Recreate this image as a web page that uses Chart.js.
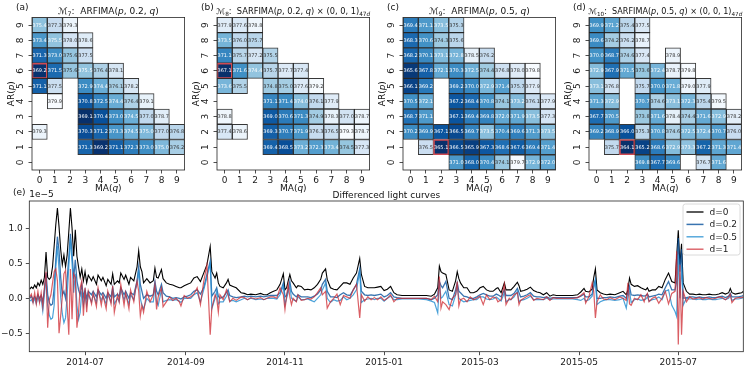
<!DOCTYPE html>
<html>
<head>
<meta charset="utf-8">
<title>ARFIMA order grids and differenced light curves</title>
<script src="https://cdn.jsdelivr.net/npm/chart.js@4.4.1/dist/chart.umd.min.js"></script>
<style>
  html, body { margin: 0; padding: 0; background: #fff; }
  #fig { position: relative; width: 747px; height: 369px; overflow: hidden; background: #fff; }
  #fig canvas { position: absolute; }
</style>
</head>
<body>
<div id="fig">
  <canvas id="hm7" width="186" height="196" style="left:0px;top:0px"></canvas>
  <canvas id="hm8" width="186" height="196" style="left:185px;top:0px"></canvas>
  <canvas id="hm9" width="186" height="196" style="left:371px;top:0px"></canvas>
  <canvas id="hm10" width="186" height="196" style="left:557px;top:0px"></canvas>
  <canvas id="curves" width="747" height="186" style="left:0px;top:183px"></canvas>
</div>
<script>
// ---- data ----
const _ = null;
const Q_LABELS = ['0', '1', '2', '3', '4', '5', '6', '7', '8', '9'];
const P_TICKS = [0, 1, 2, 3, 4, 5, 6, 7, 8, 9];

// score grids, one row per AR order p (p = 9 at the top, p = 0 at the bottom), columns MA order q = 0..9
const m7Scores = [
  [375.4, 377.3, 379.3, _, _, _, _, _, _, _],
  [373.4, 375.5, 378.0, 378.6, _, _, _, _, _, _],
  [371.3, 373.0, 375.6, 377.5, _, _, _, _, _, _],
  [369.2, 371.5, 375.6, 375.5, 376.4, 378.1, _, _, _, _],
  [371.1, 377.5, _, 372.9, 374.4, 376.1, 378.2, _, _, _],
  [_, 379.9, _, 370.8, 372.5, 374.4, 376.4, 379.1, _, _],
  [_, _, _, 369.1, 370.4, 373.0, 374.5, 377.0, 378.7, _],
  [379.3, _, _, 370.3, 371.2, 373.3, 374.5, 375.0, 377.0, 376.8],
  [_, _, _, 371.3, 369.2, 371.1, 372.3, 373.0, 375.0, 376.2],
  [_, _, _, _, _, _, _, _, _, _]
];
const m8Scores = [
  [377.9, 377.6, 378.8, _, _, _, _, _, _, _],
  [373.5, 376.0, 375.7, _, _, _, _, _, _, _],
  [371.1, 375.7, 377.2, 375.5, _, _, _, _, _, _],
  [367.1, 371.6, 374.4, 375.7, 377.7, 377.4, _, _, _, _],
  [373.6, 375.5, _, 374.8, 375.0, 377.6, 379.2, _, _, _],
  [_, _, _, 371.1, 371.4, 374.0, 376.1, 377.9, _, _],
  [378.8, _, _, 369.0, 370.6, 371.3, 374.9, 378.3, 377.0, 378.7],
  [377.4, 378.6, _, 369.3, 370.7, 371.9, 376.3, 376.5, 379.3, 378.7],
  [_, _, _, 369.4, 368.5, 373.2, 372.3, 373.4, 374.5, 377.3],
  [_, _, _, _, _, _, _, _, _, _]
];
const m9Scores = [
  [369.4, 371.1, 373.5, 375.3, _, _, _, _, _, _],
  [368.3, 370.6, 374.3, 375.6, _, _, _, _, _, _],
  [368.2, 370.1, 373.1, 372.8, 378.5, 376.2, _, _, _, _],
  [365.6, 367.8, 372.1, 370.3, 372.5, 374.4, 376.8, 378.0, 379.8, _],
  [366.1, 369.2, _, 369.2, 370.0, 372.9, 371.4, 375.7, 377.9, _],
  [370.5, 372.1, _, 367.2, 368.4, 370.8, 374.1, 373.2, 376.1, 377.9],
  [368.7, 371.1, _, 367.1, 369.4, 369.8, 372.0, 371.9, 373.5, 377.3],
  [370.2, 369.9, 367.1, 366.5, 369.7, 373.5, 370.4, 369.6, 371.3, 373.5],
  [_, 376.5, 365.1, 366.5, 365.9, 367.3, 368.6, 367.6, 369.4, 371.4],
  [_, _, _, 371.0, 368.0, 370.4, 374.1, 379.7, 372.9, 372.0]
];
const m10Scores = [
  [369.9, 371.2, 375.4, 377.5, _, _, _, _, _, _],
  [369.6, 374.2, 376.2, 378.7, _, _, _, _, _, _],
  [370.0, 368.7, 374.6, 377.4, _, 378.9, _, _, _, _],
  [372.9, 367.9, 371.5, 373.6, 372.4, 378.7, 379.8, _, _, _],
  [373.1, 376.8, _, 375.7, 370.0, 371.8, 379.0, 377.9, _, _],
  [371.3, 372.9, _, 370.7, 374.6, 373.1, 372.3, 375.4, 379.5, _],
  [367.7, 370.5, _, 373.8, 371.6, 378.4, 374.4, 371.6, 372.9, 378.2],
  [369.2, 368.9, 366.0, 375.3, 370.8, 374.6, 372.5, 372.4, 370.7, 376.0],
  [_, 375.7, 364.1, 365.2, 368.6, 372.9, 373.3, 367.2, 371.3, 371.4],
  [_, _, _, 369.8, 367.7, 369.6, _, 376.7, 371.6, _]
];
// selected (p, q) cell of each grid, outlined in red
const m7Pick = [6, 0];
const m8Pick = [6, 0];
const m9Pick = [1, 2];
const m10Pick = [1, 2];

// panel titles as [text, style] runs: '' upright, 'i' italic, 's' subscript, 'si' italic subscript
const m7Title = [['ℳ', ''], ['7', 's'], [':  ARFIMA(', ''], ['p', 'i'], [', 0.2, ', ''], ['q', 'i'], [')', '']];
const m8Title = [['ℳ', ''], ['8', 's'], [':  SARFIMA(', ''], ['p', 'i'], [', 0.2, ', ''], ['q', 'i'], [') × (0, 0, 1)', ''], ['47', 's'], ['d', 'si']];
const m9Title = [['ℳ', ''], ['9', 's'], [':  ARFIMA(', ''], ['p', 'i'], [', 0.5, ', ''], ['q', 'i'], [')', '']];
const m10Title = [['ℳ', ''], ['10', 's'], [':  SARFIMA(', ''], ['p', 'i'], [', 0.5, ', ''], ['q', 'i'], [') × (0, 0, 1)', ''], ['47', 's'], ['d', 'si']];
const X_TITLE = [['MA(', ''], ['q', 'i'], [')', '']];
const Y_TITLE = [['AR(', ''], ['p', 'i'], [')', '']];

// light curves: days counted from 2014-07-01, values in units of 1e-5
const lcDays = [
  -34, -33, -32, -31, -30, -29, -28, -27, -26, -25,
  -24, -23, -22, -21, -20, -19, -18, -17, -16, -15,
  -14, -13, -12, -11, -10, -9, -8, -7, -6, -5,
  -4, -3, -2, -1, 0, 1, 2, 4, 5, 7,
  8, 10, 11, 13, 14, 16, 17, 18, 20, 21,
  22, 24, 25, 27, 28, 30, 31, 32, 33, 34,
  35, 36, 38, 40, 42, 43, 44, 45, 47, 48,
  50, 52, 54, 56, 58, 59, 61, 63, 65, 67,
  69, 71, 73, 75, 77, 78, 80, 81, 82, 83,
  85, 87, 88, 89, 91, 93, 96, 98, 100, 102,
  105, 108, 110, 112, 114, 116, 118, 120, 122, 123,
  124, 125, 126, 127, 128, 130, 131, 133, 135, 137,
  139, 141, 143, 145, 146, 148, 149, 151, 153, 155,
  157, 159, 161, 163, 165, 167, 169, 170, 172, 174,
  176, 178, 180, 182, 184, 186, 188, 190, 192, 195,
  200, 205, 210, 213, 215, 217, 218, 219, 220, 222,
  224, 226, 228, 229, 230, 231, 233, 235, 237, 239,
  241, 243, 245, 247, 249, 251, 253, 254, 256, 258,
  259, 261, 262, 264, 266, 267, 268, 270, 272, 274,
  276, 278, 280, 282, 284, 286, 288, 290, 295, 300,
  303, 305, 307, 308, 310, 312, 313, 314, 315, 317,
  319, 321, 323, 326, 329, 331, 333, 334, 335, 336,
  338, 340, 342, 344, 345, 346, 347, 349, 351, 353,
  355, 357, 359, 361, 363, 364, 365, 366, 367, 368,
  370, 372, 374, 376, 378, 380, 382, 384, 386, 388,
  390, 392, 394, 396, 397, 398, 400, 402, 404, 405
];
const lcD0 = [
  .13, .16, .14, .19, .15, .22, .18, .26, .20, .30,
  .66, .30, .27, .30, .45, .75, 1.05, 1.29, 1.02, .70,
  .48, .62, .45, .62, .95, 1.29, 1.00, .60, .98, .60,
  .45, .30, .42, .25, .38, .22, .33, .25, .31, .20,
  .33, .25, .30, .18, .27, .20, .35, .20, .25, .22,
  .36, .27, .33, .20, .30, .25, .35, .45, .68, .45,
  .38, .22, .28, .22, .25, .43, .30, .29, .41, .28,
  .22, .20, .19, .17, .15, .15, .18, .20, .22, .29,
  .31, .24, .36, .48, .74, .38, .29, .36, .22, .17,
  .15, .22, .27, .19, .17, .15, .08, .07, .05, .06,
  .05, .07, .05, .05, .08, .10, .12, .20, .35, .12,
  .15, .25, .34, .25, .22, .15, .18, .17, .12, .13,
  .12, .15, .20, .27, .36, .42, .27, .15, .13, .12,
  .17, .22, .22, .20, .29, .36, .57, .34, .17, .15,
  .15, .15, .16, .17, .11, .13, .17, .08, .05, .04,
  .04, .04, .04, .03, .06, .15, .46, .38, .36, .34,
  .12, .10, .25, .38, .28, .22, .15, .15, .08, .08,
  .10, .15, .17, .12, .10, .10, .14, .15, .08, .22,
  .12, .12, .12, .17, .23, .18, .10, .11, .13, .16,
  .11, .09, .08, .05, .08, .03, .05, .04, .04, .04,
  .05, .09, .14, .10, .09, .13, .30, .42, .12, .08,
  .06, .05, .06, .05, .08, .10, .05, .12, .29, .20,
  .17, .18, .15, .13, .12, .15, .10, .12, .12, .17,
  .15, .27, .36, .24, .22, .60, .97, .48, .78, .22,
  .10, .06, .06, .05, .06, .05, .05, .06, .05, .05,
  .06, .08, .06, .08, .14, .08, .06, .07, .08, .10
];
const lcD02 = [
  .00, .03, -.02, .02, -.02, .05, .00, .04, -.05, .12,
  .36, .05, -.06, -.10, -.08, .15, .55, .88, .68, .30,
  .05, .10, .00, .28, .58, .92, .65, .28, .55, .25,
  .12, .05, .20, .02, .12, .00, .10, .05, .10, .02,
  .12, .05, .08, .00, .08, .02, .15, .02, .06, .02,
  .15, .05, .10, .00, .08, .05, .15, .25, .45, .20,
  .10, .00, .05, .03, .05, .24, .10, .05, .20, .08,
  .03, .02, .00, .01, .00, -.01, .02, .03, .05, .10,
  .12, .06, .15, .34, .53, .03, .10, .15, .03, .00,
  .02, .08, .12, .04, .02, .01, .02, .03, .02, .03,
  .02, .03, .02, .03, .04, .04, .04, .08, .22, .02,
  .04, .12, .24, .10, .06, .02, .05, .02, .02, .02,
  .01, .03, .06, .12, .20, .27, .10, .02, .02, .01,
  .05, .08, .05, .04, .12, .20, .42, .10, .05, .04,
  .05, .04, .05, .06, .02, .04, .08, .02, .01, .00,
  .00, .00, .00, -.02, .00, .05, .24, .18, .15, .24,
  .00, -.02, .12, .22, .10, .08, .03, .02, .00, .00,
  .02, .05, .07, .05, .03, .03, .06, .05, .02, .12,
  .04, .04, .04, .07, .14, .08, .02, .03, .05, .08,
  .03, .02, .02, .01, .02, .00, .01, .01, .01, .01,
  .01, .03, .06, .02, .02, .06, .18, .27, .00, .00,
  .01, .01, .02, .01, .03, .04, .00, .08, .17, .05,
  .04, .05, .04, .03, .04, .06, .02, .03, .04, .06,
  .05, .15, .24, .12, .12, .24, .86, .38, .70, .00,
  .01, .02, .02, .01, .02, .01, .01, .02, .01, .01,
  .02, .03, .01, .03, .07, .02, .02, .02, .03, .04
];
const lcD05 = [
  -.04, -.02, -.06, .00, -.08, .02, -.05, .00, -.18, .05,
  .30, -.10, -.24, -.30, -.28, -.10, .45, .75, .40, .02,
  -.22, -.35, -.28, .05, .45, .85, .50, .08, .35, -.10,
  -.30, -.20, .10, -.10, .05, -.10, .05, -.05, .05, -.06,
  .10, -.03, .03, -.08, .05, -.05, .12, -.08, .00, -.05,
  .12, -.02, .05, -.08, .05, -.02, .12, .20, .40, .00,
  -.10, -.15, .00, -.05, -.05, .18, -.05, -.10, .12, -.05,
  -.03, -.02, -.03, -.02, -.04, -.06, .00, .00, .00, .05,
  .08, -.05, .12, .30, .50, -.15, .00, .10, -.08, -.05,
  -.05, .03, .08, -.04, -.03, -.05, -.02, .00, -.02, .00,
  -.02, -.01, -.02, .00, .00, .00, -.01, .05, .18, -.09,
  .00, .08, .18, .00, -.02, -.04, .02, -.02, -.02, -.01,
  -.03, -.05, .00, .05, .12, .22, .00, -.06, -.02, -.04,
  -.03, .02, -.02, .00, .05, .12, .38, -.06, -.02, -.01,
  .00, -.02, .00, .00, -.04, .00, .03, -.02, -.02, -.01,
  -.01, -.01, -.02, -.04, -.06, -.21, .22, .00, .02, .10,
  -.09, -.11, .05, .17, .00, -.02, -.05, -.04, -.03, -.02,
  -.02, .02, .02, -.01, -.02, -.01, .02, .00, -.04, .08,
  -.05, -.02, -.02, .02, .10, -.05, -.03, -.02, .00, .03,
  -.02, -.02, -.02, -.02, .00, -.02, -.01, -.01, -.01, -.01,
  -.02, -.03, .00, -.04, -.02, .03, .15, .25, -.09, -.05,
  -.03, -.02, -.02, -.03, -.02, .00, -.14, .02, .10, -.06,
  -.02, -.01, -.03, -.02, -.01, .02, -.04, -.02, -.01, .02,
  -.02, .10, .12, -.10, -.19, -.26, .62, .00, .48, -.10,
  .00, -.01, -.01, -.02, -.01, -.02, -.02, -.01, -.02, -.02,
  -.01, .00, -.02, .00, .04, -.03, -.01, -.01, .00, .01
];
const lcD1 = [
  .02, .06, -.06, .08, -.08, .10, -.06, .08, -.12, .15,
  .38, -.42, -.02, .05, .22, .38, .42, .25, -.50, -.25,
  .02, .35, .40, -.10, -.52, .42, -.30, .35, .30, -.42,
  -.20, .15, .25, -.25, .15, -.20, .10, -.08, .08, -.12,
  .15, -.10, .05, -.15, .10, -.08, .18, -.20, .05, -.05,
  .20, -.10, .08, -.15, .12, -.05, .12, .25, .10, -.25,
  -.10, -.20, .10, -.05, .05, .20, -.16, .02, .15, -.12,
  -.05, .02, -.03, .00, -.05, -.11, .04, .00, .02, .06,
  .15, -.09, .24, .48, -.52, -.14, .05, .00, -.20, .05,
  -.02, .12, .05, -.05, .00, -.03, .02, .01, -.02, .01,
  -.01, .01, -.02, .00, .02, .02, .00, .15, .05, -.16,
  .03, .20, .02, -.09, .00, -.05, .05, -.03, -.02, .00,
  -.01, .02, .08, .15, .05, .10, -.14, -.05, .00, .06,
  -.09, .04, .02, .00, .12, .20, -.28, .05, -.04, .02,
  -.02, .01, -.02, .02, -.03, .00, .05, -.05, .00, .00,
  .00, .00, .00, -.02, .03, -.05, .31, -.14, -.05, -.09,
  -.16, .00, .05, .24, -.11, -.02, .00, -.05, .02, -.02,
  .00, .03, -.09, .05, -.02, .02, .00, -.05, -.02, .20,
  -.09, .00, -.02, .05, .08, -.09, -.03, .00, .03, .05,
  -.03, .00, -.01, -.02, .02, -.03, .01, .00, .00, .00,
  .01, .04, .08, -.07, .02, .22, .10, -.28, -.05, .05,
  -.01, -.02, .01, -.02, .02, .00, -.03, .22, -.08, -.10,
  .00, -.02, .05, -.05, .03, .07, -.05, .00, .02, -.07,
  .00, .10, -.08, .07, .10, .67, -.66, .48, -.52, .10,
  -.05, .02, -.01, .00, .01, -.01, .01, .00, -.01, .00,
  .02, .01, -.02, .02, .06, -.06, .00, .01, .01, .02
];
const tickDays = [0, 62, 123, 184, 243, 304, 365];
const tickLabels = ['2014-07', '2014-09', '2014-11', '2015-01', '2015-03', '2015-05', '2015-07'];
const yTickValues = [-0.5, 0, 0.5, 1.0];
const seriesNames = ['d=0', 'd=0.2', 'd=0.5', 'd=1'];

// ---- drawing ----
const FONT = '"DejaVu Sans"';
Chart.defaults.font.family = FONT;
Chart.defaults.color = '#1a1a1a';

const BLUES = [[247, 251, 255], [222, 235, 247], [198, 219, 239], [158, 202, 225], [107, 174, 214],
               [66, 146, 198], [33, 113, 181], [8, 81, 156], [8, 48, 107]];
function blues(t) {
  t = Math.min(1, Math.max(0, t));
  const s = t * 8, i = Math.min(7, Math.floor(s)), f = s - i;
  const a = BLUES[i], b = BLUES[i + 1];
  return 'rgb(' + [0, 1, 2].map(k => Math.round(a[k] + (b[k] - a[k]) * f)).join(',') + ')';
}

function richFont(style, size) {
  const sz = style.includes('s') ? size * 0.7 : size;
  return (style.includes('i') ? 'oblique ' : '') + sz.toFixed(2) + 'px ' + FONT;
}
function drawRich(ctx, runs, cx, y, size, maxW) {
  let w = 0;
  runs.forEach(([t, st]) => { ctx.font = richFont(st, size); w += ctx.measureText(t).width; });
  if (maxW && w > maxW) { size = size * maxW / w; w = maxW; }
  let x = cx - w / 2;
  ctx.textAlign = 'left';
  ctx.textBaseline = 'alphabetic';
  runs.forEach(([t, st]) => {
    ctx.font = richFont(st, size);
    ctx.fillText(t, x, st.includes('s') ? y + size * 0.22 : y);
    x += ctx.measureText(t).width;
  });
}

const axesFrame = {
  id: 'axesFrame',
  afterDatasetsDraw(chart) {
    const {ctx, chartArea: a} = chart;
    ctx.save();
    ctx.strokeStyle = '#262626';
    ctx.lineWidth = 0.8;
    ctx.strokeRect(a.left, a.top, a.right - a.left, a.bottom - a.top);
    ctx.restore();
  }
};

const cellLabels = {
  id: 'cellLabels',
  afterDatasetsDraw(chart) {
    const {ctx, scales: {x, y}} = chart;
    const ds = chart.data.datasets[0];
    ctx.save();
    ctx.font = '5px ' + FONT;
    ctx.textAlign = 'center';
    ctx.textBaseline = 'middle';
    ds.data.forEach((c, i) => {
      ctx.fillStyle = ds.labelColors[i];
      ctx.fillText(c.v.toFixed(1), x.getPixelForValue(c.q), y.getPixelForValue(c.p) + 0.3);
    });
    ctx.restore();
  }
};

const heatDecor = {
  id: 'heatDecor',
  afterDraw(chart, args, opts) {
    const {ctx, chartArea: a} = chart;
    const mid = (a.left + a.right) / 2;
    ctx.save();
    ctx.fillStyle = '#111';
    ctx.font = '9px ' + FONT;
    ctx.textAlign = 'left';
    ctx.textBaseline = 'alphabetic';
    ctx.fillText(opts.tag, a.left - 16, 10);
    drawRich(ctx, opts.title, mid, a.top - 3, 9, 154);
    drawRich(ctx, X_TITLE, mid, 191, 9);
    ctx.translate(13.5, (a.top + a.bottom) / 2);
    ctx.rotate(-Math.PI / 2);
    drawRich(ctx, Y_TITLE, 0, 0, 9);
    ctx.restore();
  }
};

function makeHeatmap(id, scores, pick, title, tag) {
  const cells = [];
  scores.forEach((row, r) => {
    const p = 9 - r;
    row.forEach((v, q) => {
      if (v !== null) cells.push({x: Q_LABELS[q], y: [p - 0.5, p + 0.5], v, p, q});
    });
  });
  const vals = cells.map(c => c.v);
  const lo = Math.min(...vals), hi = Math.max(...vals);
  const shade = v => (hi - v) / (hi - lo);
  const isPick = c => c.p === pick[0] && c.q === pick[1];
  const tickFont = {family: FONT, size: 9};
  const tickGrid = {drawOnChartArea: false, offset: false, tickLength: 3.5, tickWidth: 0.8, tickColor: '#222'};

  new Chart(document.getElementById(id), {
    type: 'bar',
    data: {
      labels: Q_LABELS,
      datasets: [{
        data: cells,
        backgroundColor: cells.map(c => blues(shade(c.v))),
        borderColor: cells.map(c => isPick(c) ? '#cf4a52' : 'rgba(20,20,20,0.85)'),
        borderWidth: cells.map(c => isPick(c) ? 1.6 : 1),
        labelColors: cells.map(c => shade(c.v) >= 0.4 ? '#ffffff' : '#333333'),
        borderSkipped: false,
        grouped: false,
        barPercentage: 1,
        categoryPercentage: 1
      }]
    },
    options: {
      responsive: false,
      animation: false,
      events: [],
      layout: {padding: {left: 0, top: 17.4, right: 1.4, bottom: 0}},
      plugins: {legend: {display: false}, tooltip: {enabled: false}, heatDecor: {title, tag}},
      scales: {
        x: {
          type: 'category',
          offset: true,
          grid: tickGrid,
          border: {display: false},
          ticks: {font: tickFont, padding: 2, maxRotation: 0, autoSkip: false},
          afterFit: s => { s.height = 26; }
        },
        y: {
          type: 'linear',
          min: -0.5,
          max: 9.5,
          afterBuildTicks: s => { s.ticks = P_TICKS.map(v => ({value: v})); },
          grid: tickGrid,
          border: {display: false},
          ticks: {font: tickFont, padding: 5, minRotation: 90, maxRotation: 90, crossAlign: 'center',
                  callback: v => String(v)},
          afterFit: s => { s.width = 32; }
        }
      }
    },
    plugins: [cellLabels, axesFrame, heatDecor]
  });
}

makeHeatmap('hm7', m7Scores, m7Pick, m7Title, '(a)');
makeHeatmap('hm8', m8Scores, m8Pick, m8Title, '(b)');
makeHeatmap('hm9', m9Scores, m9Pick, m9Title, '(c)');
makeHeatmap('hm10', m10Scores, m10Pick, m10Title, '(d)');

// ---- differenced light curves ----
const lineColors = ['#000000', 'rgba(8,81,156,0.8)', 'rgba(44,146,210,0.85)', 'rgba(205,40,48,0.75)'];
const lineWidths = [1.1, 1.3, 1.2, 1.2];
const seriesValues = [lcD0, lcD02, lcD05, lcD1];

const curveDecor = {
  id: 'curveDecor',
  afterDraw(chart) {
    const {ctx, chartArea: a} = chart;
    ctx.save();
    ctx.fillStyle = '#111';
    ctx.textBaseline = 'alphabetic';
    ctx.font = '9px ' + FONT;
    ctx.textAlign = 'center';
    ctx.fillText('Differenced light curves', (a.left + a.right) / 2, 15);
    ctx.textAlign = 'left';
    ctx.fillText('(e)', 13, 12);
    ctx.fillText('1e\u22125', a.left, 14);

    // legend
    const bx = 683, by = 21, bw = 57, bh = 51;
    ctx.beginPath();
    ctx.roundRect(bx, by, bw, bh, 2.5);
    ctx.fillStyle = 'rgba(255,255,255,0.85)';
    ctx.fill();
    ctx.strokeStyle = '#d0d0d0';
    ctx.lineWidth = 0.8;
    ctx.stroke();
    ctx.textBaseline = 'middle';
    chart.data.datasets.forEach((ds, i) => {
      const ry = by + 8 + i * 12.4;
      ctx.beginPath();
      ctx.moveTo(bx + 3.5, ry);
      ctx.lineTo(bx + 20.5, ry);
      ctx.strokeStyle = ds.borderColor;
      ctx.lineWidth = ds.borderWidth + 0.2;
      ctx.stroke();
      ctx.fillStyle = '#222';
      ctx.fillText(ds.label, bx + 26.5, ry + 0.5);
    });
    ctx.restore();
  }
};

new Chart(document.getElementById('curves'), {
  type: 'line',
  data: {
    datasets: seriesValues.map((vals, i) => ({
      label: seriesNames[i],
      data: lcDays.map((d, k) => ({x: d, y: vals[k]})),
      borderColor: lineColors[i],
      borderWidth: lineWidths[i],
      pointRadius: 0,
      tension: 0,
      fill: false,
      order: 3 - i
    }))
  },
  options: {
    responsive: false,
    animation: false,
    events: [],
    layout: {padding: {left: 0, top: 18, right: 3.7, bottom: 0}},
    plugins: {legend: {display: false}, tooltip: {enabled: false}},
    scales: {
      x: {
        type: 'linear',
        min: -34.3,
        max: 405,
        afterBuildTicks: s => { s.ticks = tickDays.map(v => ({value: v})); },
        grid: {drawOnChartArea: false, tickLength: 3.5, tickWidth: 0.8, tickColor: '#222'},
        border: {display: false},
        ticks: {font: {family: FONT, size: 9}, padding: 2, maxRotation: 0, autoSkip: false,
                callback: (v, i) => tickLabels[i]},
        afterFit: s => { s.height = 17.3; }
      },
      y: {
        type: 'linear',
        min: -0.763,
        max: 1.39,
        afterBuildTicks: s => { s.ticks = yTickValues.map(v => ({value: v})); },
        grid: {drawOnChartArea: false, tickLength: 3.5, tickWidth: 0.8, tickColor: '#222'},
        border: {display: false},
        ticks: {font: {family: FONT, size: 9}, padding: 3,
                callback: v => (v < 0 ? '\u2212' : '') + Math.abs(v).toFixed(1)},
        afterFit: s => { s.width = 29.3; }
      }
    }
  },
  plugins: [axesFrame, curveDecor]
});
</script>
</body>
</html>
